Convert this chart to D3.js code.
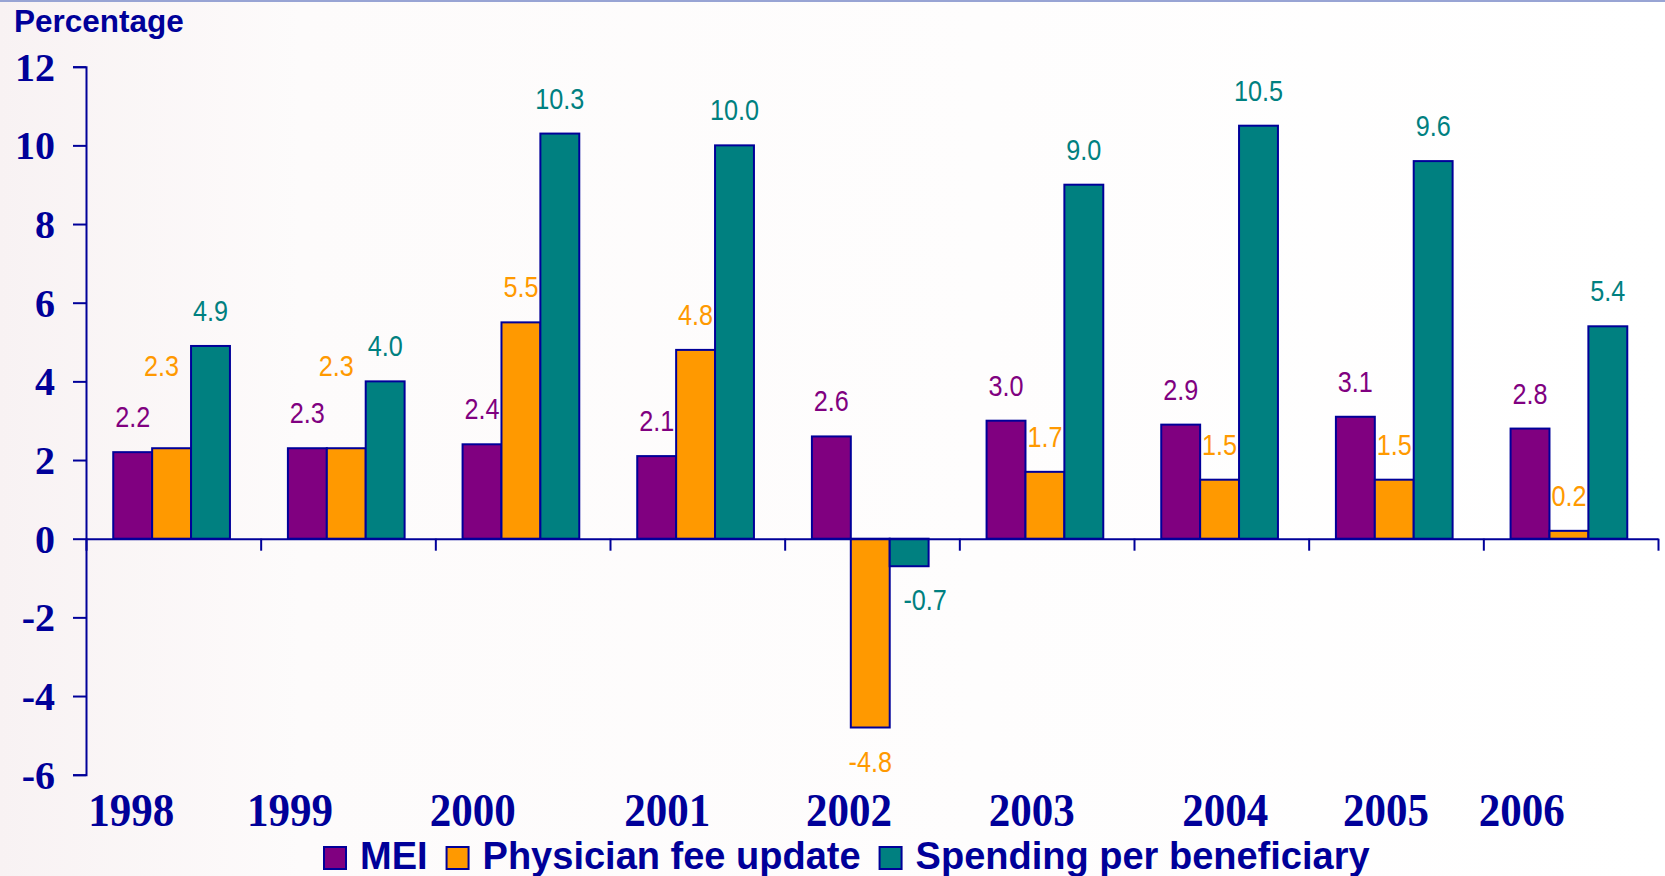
<!DOCTYPE html>
<html>
<head>
<meta charset="utf-8">
<script src="https://cdn.jsdelivr.net/npm/d3@7"></script>
<style>
  html, body { margin: 0; padding: 0; background: #fff; }
  svg { display: block; }
</style>
</head>
<body>
<svg id="chart" width="1665" height="876"></svg>
<script>
// ---- data ----
const years = ["1998", "1999", "2000", "2001", "2002", "2003", "2004", "2005", "2006"];
const seriesNames = ["MEI", "Physician fee update", "Spending per beneficiary"];
const mei = [2.2, 2.3, 2.4, 2.1, 2.6, 3.0, 2.9, 3.1, 2.8];
const physicianFee = [2.3, 2.3, 5.5, 4.8, -4.8, 1.7, 1.5, 1.5, 0.2];
const spending = [4.9, 4.0, 10.3, 10.0, -0.7, 9.0, 10.5, 9.6, 5.4];
const yTicks = [-6, -4, -2, 0, 2, 4, 6, 8, 10, 12];
const yAxisTitle = "Percentage";

// ---- layout / style ----
const colors = ["#800080", "#FF9900", "#008080"];
const navy = "#000099";
const yearLabelNudge = [-42, -58, -50, -30, -23, -15, 4, -10, -49];
const plotLeft = 86, plotRight = 1658, plotTop = 66.7, plotBottom = 774.7;

const svg = d3.select("#chart");

// background
const defs = svg.append("defs");
const grad = defs.append("linearGradient").attr("id", "bg").attr("x1", 0).attr("x2", 1).attr("y1", 0).attr("y2", 0);
grad.append("stop").attr("offset", 0).attr("stop-color", "#f8f2f3");
grad.append("stop").attr("offset", 0.18).attr("stop-color", "#fdfbfb");
grad.append("stop").attr("offset", 1).attr("stop-color", "#ffffff");
svg.append("rect").attr("width", 1665).attr("height", 876).attr("fill", "url(#bg)");
svg.append("rect").attr("x", 0).attr("y", 0).attr("width", 1665).attr("height", 2).attr("fill", "#98a4d4");

const series = [mei, physicianFee, spending];
const table = years.map((yr, i) => ({ year: yr, i, values: series.map(s => s[i]) }));

const y = d3.scaleLinear().domain([-6, 12]).range([plotBottom, plotTop]);
const x0 = d3.scaleBand().domain(years).range([plotLeft, plotRight]).padding(0);
const x1 = d3.scaleBand().domain(seriesNames).range([0, x0.bandwidth()])
  .paddingInner(0).paddingOuter(0.745).align(0.47);

// y axis
const yAxis = svg.append("g").attr("transform", `translate(${plotLeft},0)`)
  .call(d3.axisLeft(y).tickValues(yTicks).tickSize(13).tickPadding(18).tickFormat(d => String(d)));
yAxis.select(".domain").attr("stroke", navy).attr("stroke-width", 2);
yAxis.selectAll(".tick line").attr("stroke", navy).attr("stroke-width", 2);
yAxis.selectAll(".tick text")
  .attr("fill", navy)
  .attr("font-family", "'Liberation Serif', 'Times New Roman', serif")
  .attr("font-weight", "bold")
  .attr("font-size", 40)
  .attr("dy", "0.34em");

// y title
svg.append("text").attr("x", 14).attr("y", 32)
  .attr("fill", navy)
  .attr("font-family", "'Liberation Sans', Arial, sans-serif")
  .attr("font-weight", "bold").attr("font-size", 31.5)
  .text(yAxisTitle);

// bars
const groups = svg.append("g").selectAll("g").data(table).join("g")
  .attr("transform", d => `translate(${x0(d.year)},0)`);
groups.selectAll("rect").data(d => d.values.map((v, k) => ({ v, k }))).join("rect")
  .attr("x", d => x1(seriesNames[d.k]))
  .attr("width", x1.bandwidth())
  .attr("y", d => y(Math.max(0, d.v)))
  .attr("height", d => Math.abs(y(d.v) - y(0)))
  .attr("fill", d => colors[d.k])
  .attr("stroke", navy)
  .attr("stroke-width", 2);

// x axis (zero line with category boundary ticks)
const xb = d3.scaleLinear().domain([0, years.length]).range([plotLeft, plotRight]);
const xAxis = svg.append("g").attr("transform", `translate(0,${y(0)})`)
  .call(d3.axisBottom(xb).tickValues(d3.range(0, years.length + 1)).tickSize(12).tickSizeOuter(0).tickFormat(""));
xAxis.select(".domain").attr("stroke", navy).attr("stroke-width", 2);
xAxis.selectAll(".tick line").attr("stroke", navy).attr("stroke-width", 2);

// year labels
svg.append("g").selectAll("text").data(years).join("text")
  .attr("x", (d, i) => x0(d) + x0.bandwidth() / 2 + yearLabelNudge[i])
  .attr("y", 826)
  .attr("text-anchor", "middle")
  .attr("fill", navy)
  .attr("font-family", "'Liberation Serif', 'Times New Roman', serif")
  .attr("font-weight", "bold")
  .attr("font-size", 46)
  .attr("textLength", 86)
  .attr("lengthAdjust", "spacingAndGlyphs")
  .text(d => d);

// value labels with simple collision avoidance
const labelFont = "'Liberation Sans Narrow', 'Arial Narrow', 'Liberation Sans', sans-serif";
const labels = [];
table.forEach(d => {
  const base = x0(d.year);
  const pos = d.values.map((v, k) => {
    const cx = base + x1(seriesNames[k]) + x1.bandwidth() / 2;
    const by = v >= 0 ? y(v) - 25 : y(v) + 44;
    return { v, k, x: cx, y: by };
  });
  // orange label colliding with MEI label: lift it and nudge left
  if (pos[1].v >= 0 && Math.abs(pos[1].y - pos[0].y) < 30) {
    pos[1].y -= 47; pos[1].x -= 10;
  }
  // negative teal label next to a deeper orange bar: push right
  if (pos[2].v < 0 && pos[1].v < pos[2].v) {
    pos[2].x += 16;
  }
  pos.forEach(p => labels.push(p));
});
const valueText = svg.append("g").selectAll("text").data(labels).join("text")
  .attr("x", d => d.x).attr("y", d => d.y)
  .attr("text-anchor", "middle")
  .attr("fill", d => colors[d.k])
  .attr("font-family", labelFont)
  .attr("font-size", 30)
  .text(d => d.v.toFixed(1));
// condense the labels horizontally
valueText.each(function () {
  const w = this.getComputedTextLength();
  d3.select(this).attr("textLength", w * 0.84).attr("lengthAdjust", "spacingAndGlyphs");
});

// legend
const legendFont = 38;
const legend = svg.append("g");
let lx = 324;
seriesNames.forEach((name, k) => {
  legend.append("rect").attr("x", lx).attr("y", 847).attr("width", 22).attr("height", 22)
    .attr("fill", colors[k]).attr("stroke", navy).attr("stroke-width", 2);
  const t = legend.append("text").attr("x", lx + 36).attr("y", 869)
    .attr("fill", navy)
    .attr("font-family", "'Liberation Sans', Arial, sans-serif")
    .attr("font-weight", "bold").attr("font-size", legendFont)
    .text(name);
  lx += 36 + t.node().getComputedTextLength() + 19;
});
</script>
</body>
</html>
